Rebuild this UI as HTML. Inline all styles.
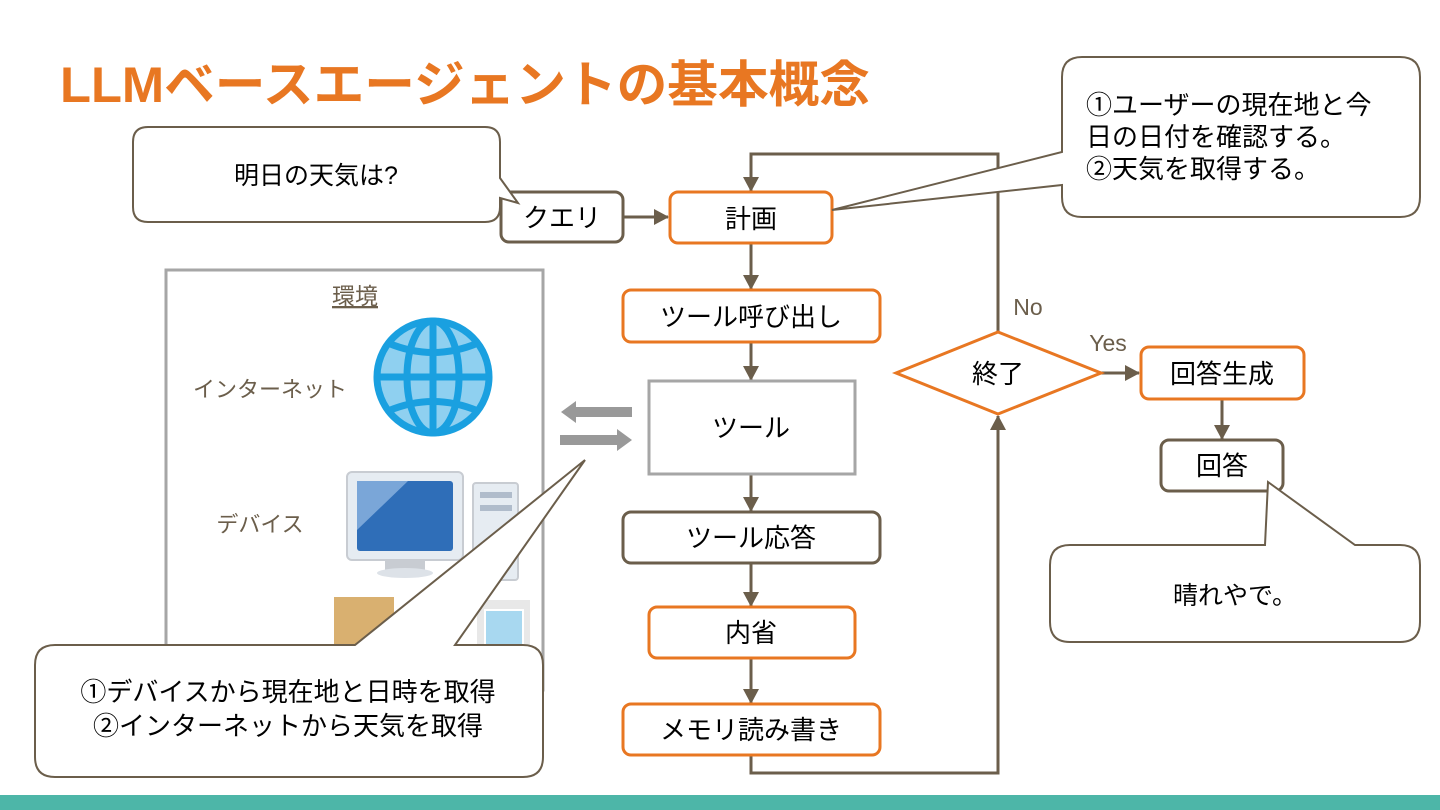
<!DOCTYPE html>
<html><head><meta charset="utf-8"><style>
html,body{margin:0;padding:0;background:#fff;}
svg{display:block;font-family:"Liberation Sans","Noto Sans CJK JP",sans-serif;}
</style></head><body>
<svg width="1440" height="810" viewBox="0 0 1440 810" xmlns="http://www.w3.org/2000/svg">
<defs>
<marker id="ah2" markerWidth="16" markerHeight="16" refX="14" refY="8" orient="auto" markerUnits="userSpaceOnUse">
<path d="M0,0 L15,8 L0,16 z" fill="#6b5e4b"/></marker>
</defs>
<rect x="0" y="795" width="1440" height="15" fill="#4db6a8"/>
<text x="60" y="102" font-size="50" font-weight="bold" fill="#e87722" textLength="810" lengthAdjust="spacingAndGlyphs">LLMベースエージェントの基本概念</text>

<!-- environment -->
<rect x="166" y="270" width="377" height="420" fill="#fff" stroke="#a6a6a6" stroke-width="3"/>
<text x="355" y="304" font-size="23" fill="#6b5e4b" text-anchor="middle" text-decoration="underline">環境</text>
<text x="270" y="397" font-size="22" fill="#6b5e4b" text-anchor="middle">インターネット</text>
<text x="260" y="532" font-size="22" fill="#6b5e4b" text-anchor="middle">デバイス</text>
<g stroke="#1aa0e0" stroke-width="7" fill="none">
<circle cx="433" cy="377" r="56" fill="#8fd0f0"/>
<ellipse cx="433" cy="377" rx="26" ry="56"/>
<line x1="433" y1="321" x2="433" y2="433"/>
<line x1="377" y1="377" x2="489" y2="377"/>
<path d="M388,343 Q433,362 478,343"/>
<path d="M388,411 Q433,392 478,411"/>
</g>
<rect x="347" y="472" width="116" height="88" rx="5" fill="#e6ecf2" stroke="#c8ccd2" stroke-width="2"/>
<rect x="357" y="481" width="96" height="70" rx="3" fill="#2f6eb8"/>
<path d="M357,481 L408,481 L357,530 z" fill="#7aa6d8"/>
<rect x="385" y="560" width="40" height="10" fill="#c8ccd2"/>
<ellipse cx="405" cy="573" rx="28" ry="5" fill="#dde2e8"/>
<rect x="473" y="483" width="45" height="97" rx="3" fill="#e6ecf2" stroke="#c8ccd2" stroke-width="2"/>
<rect x="480" y="492" width="32" height="6" fill="#b0bccb"/><rect x="480" y="505" width="32" height="6" fill="#b0bccb"/>
<rect x="334" y="597" width="60" height="50" fill="#d9b070"/>
<rect x="477" y="600" width="53" height="48" fill="#e8e8e8"/>
<rect x="485" y="610" width="38" height="35" fill="#a8d8f0" stroke="#fff" stroke-width="2"/>

<!-- gray arrows -->
<path d="M632,407 L576,407 L576,401 L561,412 L576,423 L576,417 L632,417 z" fill="#999"/>
<path d="M560,435 L617,435 L617,429 L632,440 L617,451 L617,445 L560,445 z" fill="#999"/>

<!-- connectors -->
<g stroke="#6b5e4b" stroke-width="3" fill="none">
<line x1="623" y1="217" x2="668" y2="217" marker-end="url(#ah2)"/>
<line x1="751" y1="243" x2="751" y2="289" marker-end="url(#ah2)"/>
<line x1="751" y1="342" x2="751" y2="380" marker-end="url(#ah2)"/>
<line x1="751" y1="474" x2="751" y2="511" marker-end="url(#ah2)"/>
<line x1="751" y1="563" x2="751" y2="606" marker-end="url(#ah2)"/>
<line x1="751" y1="658" x2="751" y2="703" marker-end="url(#ah2)"/>
<polyline points="751,755 751,773 998,773 998,416" marker-end="url(#ah2)"/>
<polyline points="998,332 998,154 751,154 751,191" marker-end="url(#ah2)"/>
<line x1="1101" y1="373" x2="1139" y2="373" marker-end="url(#ah2)"/>
<line x1="1222" y1="399" x2="1222" y2="439" marker-end="url(#ah2)"/>
</g>
<text x="1028" y="315" font-size="23" fill="#6b5e4b" text-anchor="middle">No</text>
<text x="1108" y="351" font-size="23" fill="#6b5e4b" text-anchor="middle">Yes</text>

<!-- nodes -->
<g font-size="26" text-anchor="middle" fill="#000">
<rect x="501" y="192" width="122" height="50" rx="8" fill="#fff" stroke="#6b5e4b" stroke-width="3"/>
<text x="562" y="227">クエリ</text>
<rect x="670" y="192" width="162" height="51" rx="8" fill="#fff" stroke="#e87722" stroke-width="3"/>
<text x="751" y="228">計画</text>
<rect x="623" y="290" width="257" height="52" rx="8" fill="#fff" stroke="#e87722" stroke-width="3"/>
<text x="751" y="326">ツール呼び出し</text>
<rect x="649" y="381" width="206" height="93" fill="#fff" stroke="#a6a6a6" stroke-width="3"/>
<text x="751" y="437">ツール</text>
<rect x="623" y="512" width="257" height="51" rx="8" fill="#fff" stroke="#6b5e4b" stroke-width="3"/>
<text x="751" y="547">ツール応答</text>
<rect x="649" y="607" width="206" height="51" rx="8" fill="#fff" stroke="#e87722" stroke-width="3"/>
<text x="751" y="642">内省</text>
<rect x="623" y="704" width="257" height="51" rx="8" fill="#fff" stroke="#e87722" stroke-width="3"/>
<text x="751" y="739">メモリ読み書き</text>
<polygon points="896,373 998,332 1101,373 998,414" fill="#fff" stroke="#e87722" stroke-width="3"/>
<text x="998" y="383">終了</text>
<rect x="1141" y="347" width="163" height="52" rx="8" fill="#fff" stroke="#e87722" stroke-width="3"/>
<text x="1222" y="383">回答生成</text>
<rect x="1161" y="440" width="122" height="51" rx="8" fill="#fff" stroke="#6b5e4b" stroke-width="3"/>
<text x="1222" y="475">回答</text>
</g>

<!-- callouts -->
<g fill="#fff" stroke="#6b5e4b" stroke-width="2">
<path d="M148,127 H485 Q500,127 500,142 V178 L518,203 L500,198 V207 Q500,222 485,222 H148 Q133,222 133,207 V142 Q133,127 148,127 z"/>
<path d="M1082,57 H1400 Q1420,57 1420,77 V197 Q1420,217 1400,217 H1082 Q1062,217 1062,197 V185 L832,210 L1062,152 V77 Q1062,57 1082,57 z"/>
<path d="M55,645 H355 L585,460 L455,645 H523 Q543,645 543,665 V757 Q543,777 523,777 H55 Q35,777 35,757 V665 Q35,645 55,645 z"/>
<path d="M1070,545 H1265 L1268,482 L1355,545 H1400 Q1420,545 1420,565 V622 Q1420,642 1400,642 H1070 Q1050,642 1050,622 V565 Q1050,545 1070,545 z"/>
</g>
<g font-size="26" fill="#000">
<text x="316" y="184" text-anchor="middle" font-size="25">明日の天気は?</text>
<text x="1086" y="114">①ユーザーの現在地と今</text>
<text x="1086" y="146">日の日付を確認する。</text>
<text x="1086" y="178">②天気を取得する。</text>
<text x="288" y="701" text-anchor="middle">①デバイスから現在地と日時を取得</text>
<text x="288" y="735" text-anchor="middle">②インターネットから天気を取得</text>
<text x="1235" y="604" text-anchor="middle" font-size="25">晴れやで。</text>
</g>
</svg>
</body></html>
